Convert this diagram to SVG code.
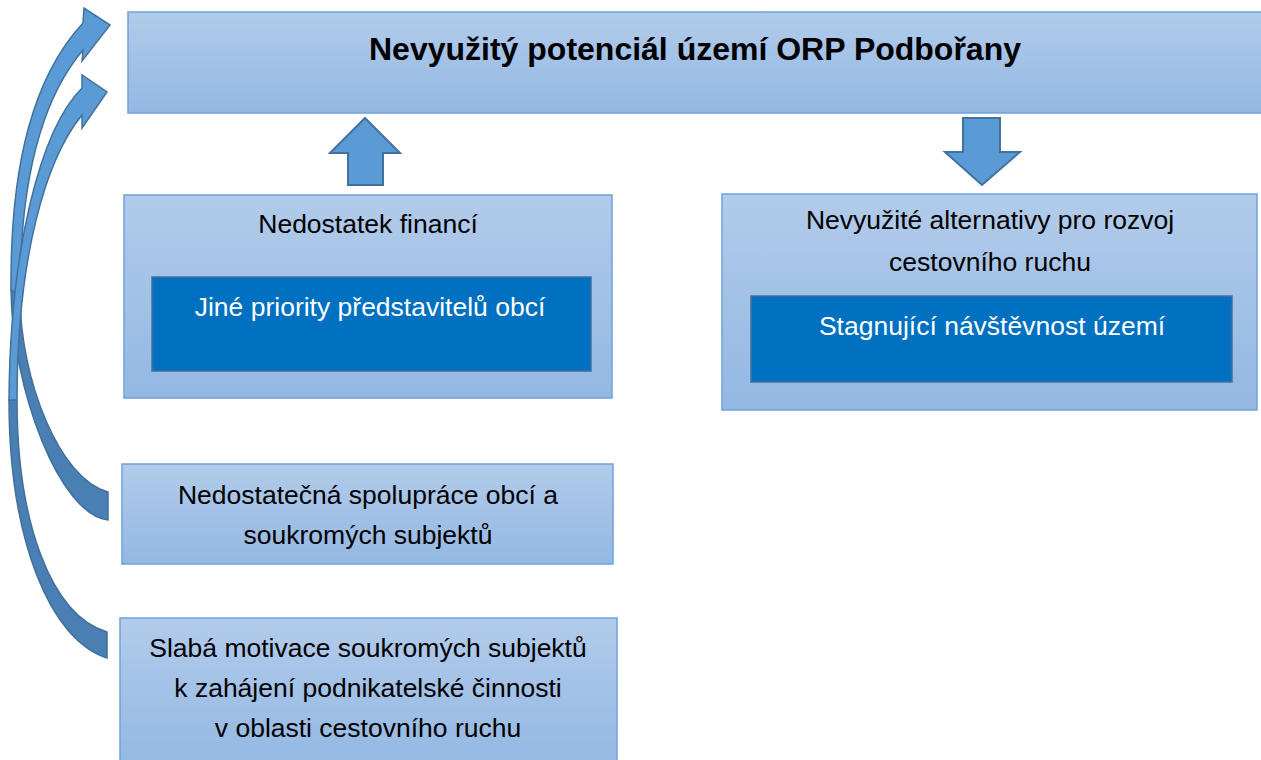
<svg xmlns="http://www.w3.org/2000/svg" width="1261" height="760" viewBox="0 0 1261 760">
<defs>
<linearGradient id="lg" x1="0" y1="0" x2="0" y2="1">
<stop offset="0" stop-color="#b2cbea"/>
<stop offset="1" stop-color="#93b8e3"/>
</linearGradient>
<style>
.box{fill:url(#lg);stroke:#6fa2da;stroke-width:1.5}
.inner{fill:#0070c0;stroke:#41719c;stroke-width:1.5}
.t{font-family:"Liberation Sans",Arial,sans-serif;font-size:26.5px;fill:#000;text-anchor:middle}
.w{fill:#fff}
.title{font-family:"Liberation Sans",Arial,sans-serif;font-size:32px;font-weight:bold;text-anchor:middle;fill:#000}
.arr{fill:#5b9bd5;stroke:#41719c;stroke-width:2;stroke-linejoin:miter}
.dark{fill:#4a7fb3;stroke:#41719c;stroke-width:1.5}
.light{fill:#5b9bd5;stroke:#41719c;stroke-width:1.5}
</style>
</defs>
<rect width="1261" height="760" fill="#fff"/>

<g id="connectors">
<polygon class="arr" points="365,118 400,153 383,153 383,185 348,185 348,153 330,153"/>
<polygon class="arr" points="963,118 1000,118 1000,152 1020,152 982,185 945,152 963,152"/>
<path class="dark" d="M11,290 C12,390 60,515 108,520 L108,492 C60,480 20,380 20,295 Z"/>
<path class="dark" d="M9,400 C9,540 50,640 107,658 L107,632 C50,615 17,520 17,400 Z"/>
<path class="light" d="M11,290 C10,160 35,75 83,23 L84,8 L110,25 L82,61 L83,50 C45,95 20,170 20,295 Z"/>
<path class="light" d="M9,400 C10,250 40,130 82,88 L82,75 L107,92 L82,128 L82,115 C45,160 17,260 17,400 Z"/>
</g>

<g id="title">
<rect class="box" x="128" y="12" width="1140" height="101"/>
<text class="title" x="695" y="60">Nevyužitý potenciál území ORP Podbořany</text>
</g>

<g id="financi">
<rect class="box" x="124" y="195" width="488" height="203"/>
<text class="t" x="368" y="233">Nedostatek financí</text>
</g>
<g id="priority">
<rect class="inner" x="152" y="277" width="439" height="94"/>
<text class="t w" x="370" y="316">Jiné priority představitelů obcí</text>
</g>

<g id="alternativy">
<rect class="box" x="722" y="194" width="535" height="216"/>
<text class="t" x="990" y="229">Nevyužité alternativy pro rozvoj</text>
<text class="t" x="990" y="271">cestovního ruchu</text>
</g>
<g id="stagnujici">
<rect class="inner" x="751" y="296" width="481" height="86"/>
<text class="t w" x="992" y="335">Stagnující návštěvnost území</text>
</g>

<g id="spoluprace">
<rect class="box" x="122" y="464" width="491" height="100"/>
<text class="t" x="368" y="504">Nedostatečná spolupráce obcí a</text>
<text class="t" x="368" y="544">soukromých subjektů</text>
</g>

<g id="motivace">
<rect class="box" x="120" y="618" width="497" height="150"/>
<text class="t" x="368" y="657">Slabá motivace soukromých subjektů</text>
<text class="t" x="368" y="697">k zahájení podnikatelské činnosti</text>
<text class="t" x="368" y="737">v oblasti cestovního ruchu</text>
</g>
</svg>
